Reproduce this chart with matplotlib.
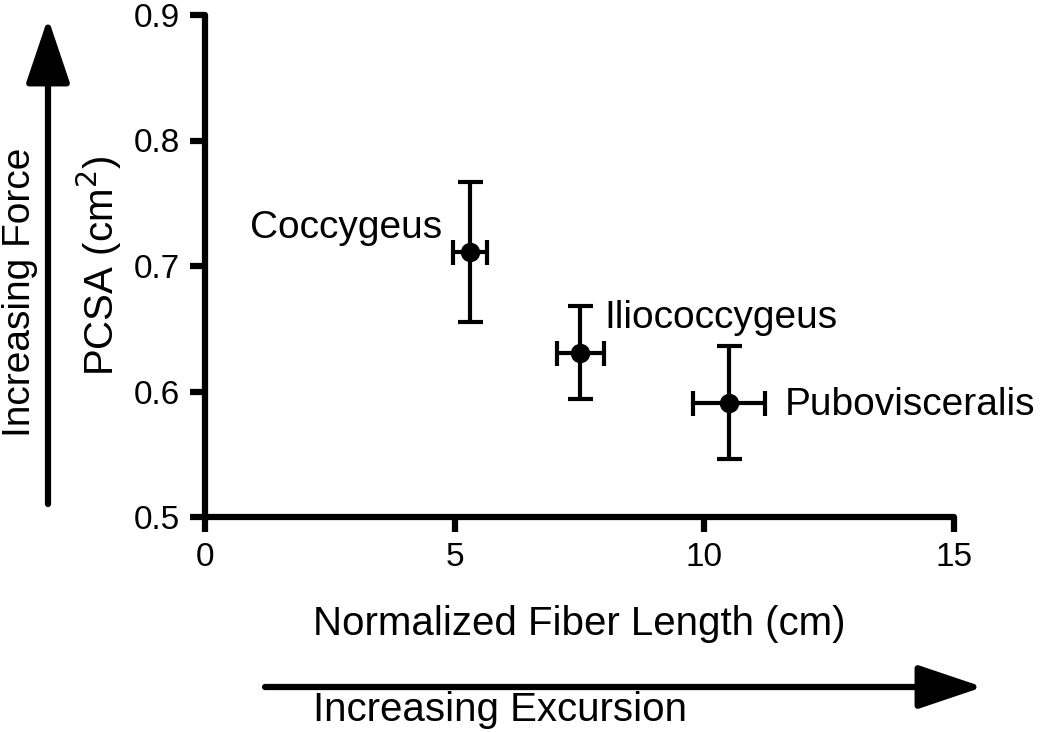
#!/usr/bin/env python3
"""PCSA vs normalized fiber length for the pelvic floor muscles."""
import matplotlib
matplotlib.use("Agg")
import matplotlib.pyplot as plt

plt.rcParams["font.family"] = ["Liberation Sans", "DejaVu Sans"]

muscles = ["Coccygeus", "Iliococcygeus", "Pubovisceralis"]
fiber_length = [5.30, 7.52, 10.49]
fiber_length_err = [0.34, 0.47, 0.72]
pcsa = [0.711, 0.631, 0.591]
pcsa_err = [0.056, 0.037, 0.045]

# label offsets (points) relative to each data point, and alignment
label_offsets = [(-20, 10), (17, 18), (40, -9)]
label_ha = ["right", "left", "left"]

W, H = 1050, 732
fig = plt.figure(figsize=(W / 100, H / 100), dpi=100)
ax = fig.add_axes([205 / W, 1 - 517 / H, (954 - 205) / W, (517 - 15) / H])

ax.errorbar(fiber_length, pcsa, xerr=fiber_length_err, yerr=pcsa_err,
            fmt="o", color="black", ms=13, elinewidth=3, capsize=9, capthick=3,
            clip_on=False)

for name, xv, yv, off, ha in zip(muscles, fiber_length, pcsa, label_offsets, label_ha):
    ax.annotate(name, (xv, yv), xytext=off, textcoords="offset points",
                ha=ha, va="baseline", fontsize=28)

ax.set_xlim(0, 15)
ax.set_ylim(0.5, 0.9)
ax.set_xticks([0, 5, 10, 15])
ax.set_yticks([0.5, 0.6, 0.7, 0.8, 0.9])
ax.set_yticklabels(["0.5", "0.6", "0.7", "0.8", "0.9"])
for side in ("top", "right"):
    ax.spines[side].set_visible(False)
for side in ("left", "bottom"):
    ax.spines[side].set_linewidth(4.5)
    ax.spines[side].set_capstyle("round")
ax.tick_params(direction="out", length=11, width=4.5, labelsize=24, pad=7)
ax.set_xlabel("Normalized Fiber Length (cm)", fontsize=29, labelpad=23)
ax.set_ylabel("PCSA (cm$^2$)", fontsize=29, labelpad=7)

arrow = dict(arrowstyle="-|>,head_length=4,head_width=1.35", color="black",
             lw=4.5, mutation_scale=10, shrinkA=0, shrinkB=0)
ax.annotate("", xy=(48 / W, 1 - 18 / H), xytext=(48 / W, 1 - 504 / H),
            xycoords="figure fraction", textcoords="figure fraction",
            arrowprops=arrow)
ax.annotate("", xy=(983 / W, 1 - 687 / H), xytext=(265 / W, 1 - 687 / H),
            xycoords="figure fraction", textcoords="figure fraction",
            arrowprops=arrow)
fig.text(2 / W, 1 - 292 / H, "Increasing Force", rotation=90,
         ha="left", va="center", fontsize=28)
fig.text(313 / W, 1 - 710 / H, "Increasing Excursion",
         ha="left", va="center", fontsize=29)

fig.savefig("out.png", dpi=100, facecolor="white")
